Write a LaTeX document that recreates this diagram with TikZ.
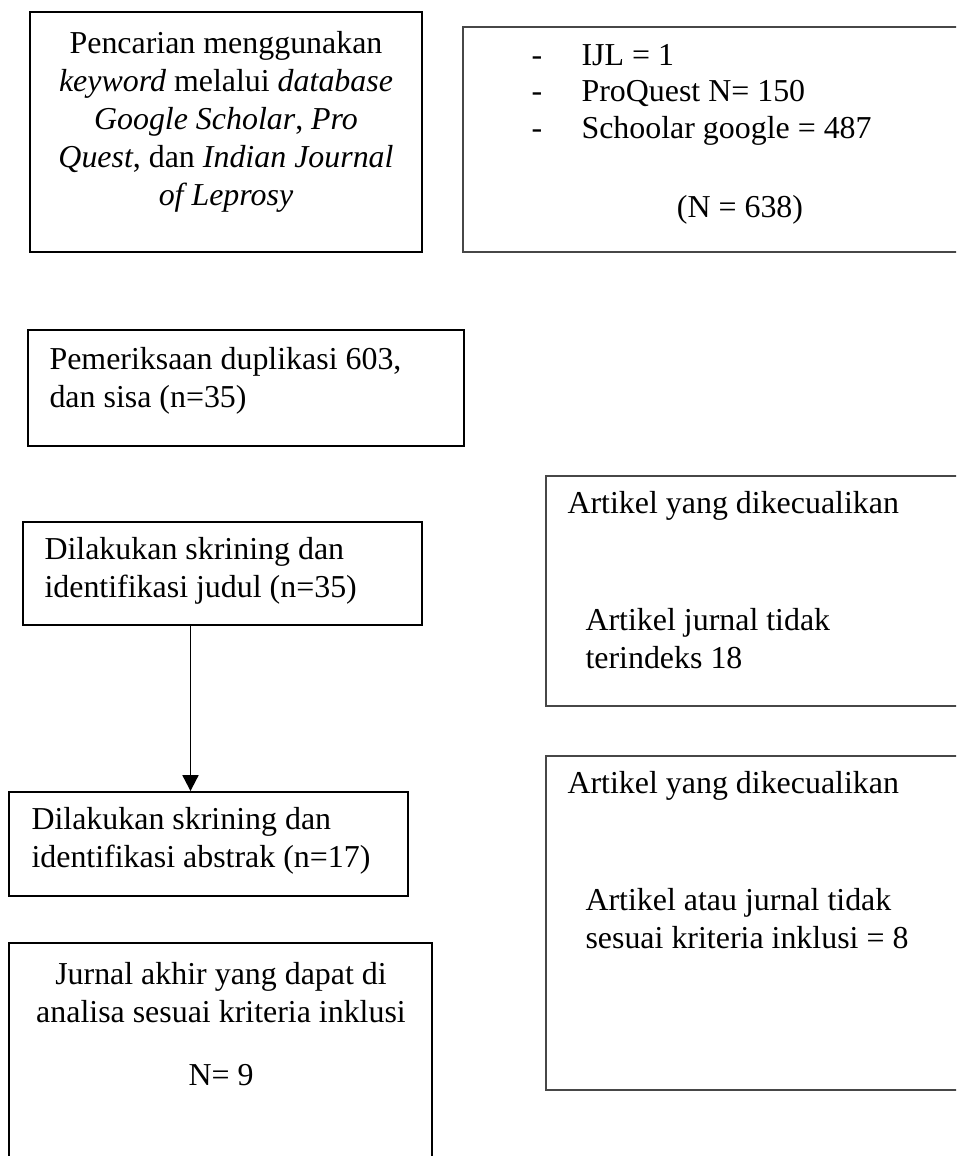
\documentclass[tikz,border=0pt]{standalone}
\usepackage{fontspec}
\setmainfont{Liberation Serif}
\usetikzlibrary{fit,arrows.meta}

\newcommand{\strich}[1]{\makebox[18.8pt][l]{-}#1}

\begin{document}
\begin{tikzpicture}
		[
		x=0.376pt, y=-0.376pt, font=\fontsize{12pt}{14.2pt}\selectfont, >={Triangle[length=6pt,width=6pt]},
		%Voreinstellung fuer Kaesten und Texte (Position = Grundlinie der letzten Zeile)
		kasten/.style={draw, line width=0.7pt, inner sep=0pt},
		kastengrau/.style={kasten, draw=black!72},
		txt/.style={inner sep=0pt, align=left, anchor=base west},
		txtmitte/.style={inner sep=0pt, align=center, anchor=base}
		]
		
		%Rahmen der Seite
		\useasboundingbox (0,0) rectangle (956,1156);
		\clip (0,0) rectangle (956,1156);
		
		%Suche
		\node[kasten, fit={(30,12) (422,252)}] (suche) {};
		\node[txtmitte] (suchetxt) at (226,205) {Pencarian menggunakan\\ \textit{keyword} melalui \textit{database}\\ \textit{Google Scholar}, \textit{Pro}\\ \textit{Quest}, dan \textit{Indian Journal}\\ \textit{of Leprosy}};
		
		%Treffer je Datenbank
		\node[kastengrau, fit={(463,27) (975,252)}] (treffer) {};
		\node[txt, font=\fontsize{12pt}{13.7pt}\selectfont] (treffertxt) at (531,138) {\strich{IJL = 1}\\ \strich{ProQuest N= 150}\\ \strich{Schoolar google = 487}};
		\node[txtmitte] (summe) at (740,217) {(N = 638)};
		
		%Duplikate
		\node[kasten, fit={(28,330) (464,446)}] (duplikat) {};
		\node[txt] (duplikattxt) at (49,407) {Pemeriksaan duplikasi 603,\\ dan sisa (n=35)};
		
		%Skrining Titel
		\node[kasten, fit={(23,522) (422,625)}] (judul) {};
		\node[txt] (judultxt) at (44,597) {Dilakukan skrining dan\\ identifikasi judul (n=35)};
		
		%Skrining Abstract
		\node[kasten, fit={(9,792) (408,896)}] (abstrak) {};
		\node[txt] (abstraktxt) at (31,867) {Dilakukan skrining dan\\ identifikasi abstrak (n=17)};
		
		%Pfeil
		\coordinate (pfeil) at (190.5,0);
		\draw[->, line width=0.75pt] (pfeil |- judul.south) -- (pfeil |- abstrak.north);
		
		%Ergebnis
		\node[kasten, fit={(9,943) (432,1180)}] (akhir) {};
		\node[txtmitte] (akhirtxt) at (221,1022) {Jurnal akhir yang dapat di\\ analisa sesuai kriteria inklusi};
		\node[txtmitte] (akhirn) at (221,1085) {N= 9};
		
		%Ausgeschlossen 1
		\node[kastengrau, fit={(546,476) (975,706)}] (aus1) {};
		\node[txt] (aus1kopf) at (567,513) {Artikel yang dikecualikan};
		\node[txt] (aus1txt) at (585,668) {Artikel jurnal tidak\\ terindeks 18};
		
		%Ausgeschlossen 2
		\node[kastengrau, fit={(546,756) (975,1090)}] (aus2) {};
		\node[txt] (aus2kopf) at (567,793) {Artikel yang dikecualikan};
		\node[txt] (aus2txt) at (585,948) {Artikel atau jurnal tidak\\ sesuai kriteria inklusi = 8};
		
	\end{tikzpicture}
\end{document}
